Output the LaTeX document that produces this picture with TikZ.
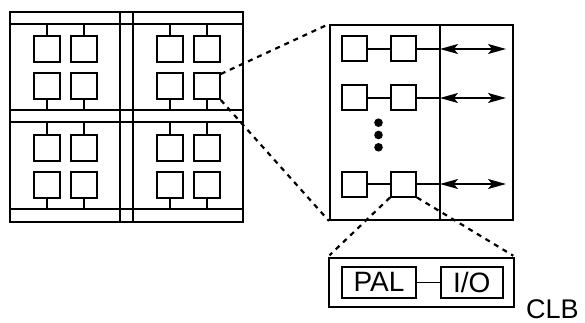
\documentclass[tikz,border=0pt]{standalone}
\usepackage{fontspec}
\setmainfont{Liberation Sans}
\usetikzlibrary{arrows.meta}
\begin{document}
\begin{tikzpicture}[x=1pt,y=-1pt,
  frame/.style={draw=black,line width=2pt},
  cell/.style={draw=black,line width=2pt,minimum size=26pt,inner sep=0pt},
  dcell/.style={draw=black,line width=2pt,minimum size=25pt,inner sep=0pt},
  wire/.style={draw=black,line width=1.4pt},
  zoomline/.style={draw=black,line width=2.2pt,dash pattern=on 5pt off 5pt},
  bidir/.style={draw=black,line width=1.4pt,{Stealth[length=18pt,width=10pt,inset=4pt]}-{Stealth[length=18pt,width=10pt,inset=4pt]}},
  txtbox/.style={draw=black,line width=2pt,inner sep=0pt,minimum height=31pt,font=\fontsize{28}{30}\selectfont},
  dot/.style={circle,fill=black,inner sep=0pt,minimum size=8.6pt}
]
\useasboundingbox (0,0) rectangle (585,323);

% ---- left grid frame ----
\draw[frame] (10,12) rectangle (243,222);
\foreach \yy in {24,110,122,209} \draw[frame] (10,\yy) -- (243,\yy);
\foreach \xx in {120,133} \draw[frame] (\xx,12) -- (\xx,222);
\coordinate (bandA) at (0,24);
\coordinate (bandB) at (0,110);
\coordinate (bandC) at (0,122);
\coordinate (bandD) at (0,209);

% ---- left grid cells ----
\foreach \cx/\cn in {47/a,83.5/b,170/c,206.8/d}{
  \node[cell] (q1\cn) at (\cx,49) {};
  \node[cell] (q2\cn) at (\cx,86) {};
  \node[cell] (q3\cn) at (\cx,148) {};
  \node[cell] (q4\cn) at (\cx,185) {};
  \draw[frame] (q1\cn.north) -- (q1\cn.north |- bandA);
  \draw[frame] (q2\cn.south) -- (q2\cn.south |- bandB);
  \draw[frame] (q3\cn.north) -- (q3\cn.north |- bandC);
  \draw[frame] (q4\cn.south) -- (q4\cn.south |- bandD);
}

% ---- detail box ----
\node[draw=black,line width=2pt,minimum width=183pt,minimum height=195pt,inner sep=0pt] (det) at (421.5,122.5) {};
\coordinate (vtop) at (440,25);
\coordinate (vbot) at (440,220);
\draw[frame,line width=1.6pt] (vtop) -- (vbot);

\foreach \r/\yy in {1/49,2/98,3/184}{
  \node[dcell] (A\r) at (354,\yy) {};
  \node[dcell] (B\r) at (403.5,\yy) {};
  \coordinate (V\r) at (440,\yy);
  \coordinate (E\r) at (506,\yy);
  \draw[wire] (A\r.east) -- (B\r.west);
  \draw[wire] (B\r.east) -- (V\r);
  \draw[bidir] (V\r) -- (E\r);
}
\node[dot] (d1) at (378.5,122.7) {};
\node[dot] (d2) at (378.5,135) {};
\node[dot] (d3) at (378.5,147.3) {};

% ---- CLB box ----
\node[draw=black,line width=2pt,minimum width=185pt,minimum height=49.5pt,inner sep=0pt] (clb) at (421.5,282.5) {};
\node[txtbox,minimum width=74pt] (pal) at (379,282.3) {PAL};
\node[txtbox,minimum width=62pt] (io) at (471.7,282.3) {I/O};
\draw[wire] (pal.east) -- (io.west);
\node[anchor=base west,inner sep=0pt,font=\fontsize{27}{29}\selectfont] (clbl) at (526,318) {CLB};

% ---- zoom lines ----
\draw[zoomline] ([yshift=-2pt]q2d.north east) -- (det.north west);
\draw[zoomline] (q2d.south east) -- (det.south west);
\draw[zoomline,shorten >=2pt] (B3.south west) -- (clb.north west);
\draw[zoomline,shorten >=2pt] (B3.south east) -- (clb.north east);
\end{tikzpicture}
\end{document}
